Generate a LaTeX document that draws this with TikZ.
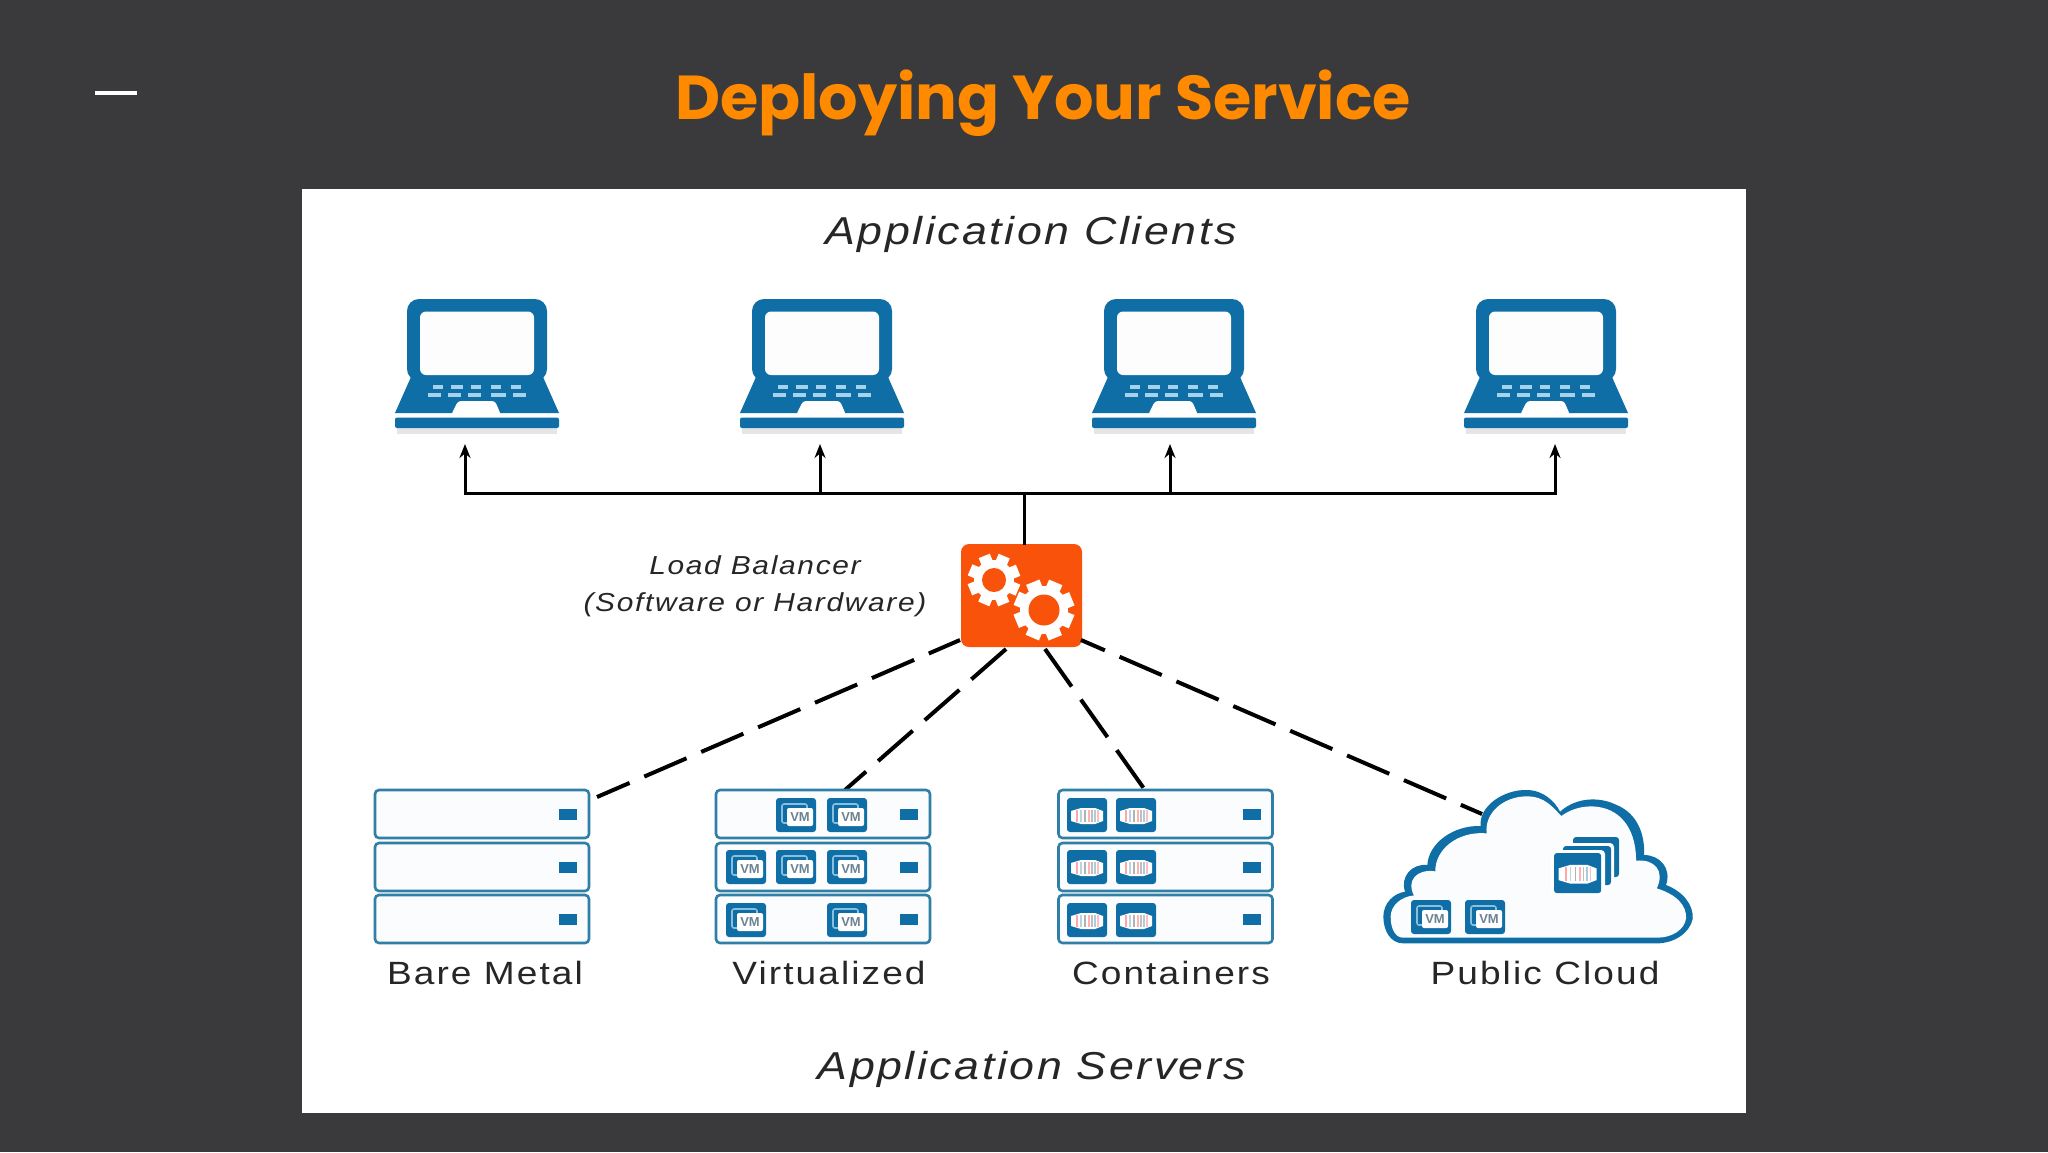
\documentclass[tikz,border=0pt]{standalone}
\usepackage{fontspec}
\setmainfont{Liberation Sans}
\newfontfamily\titlef{Poppins}
\newfontfamily\lab{Liberation Sans}[LetterSpace=6.5,FakeStretch=1.15]
\usetikzlibrary{arrows.meta}
\definecolor{bgd}{HTML}{3A393B}
\definecolor{ttl}{HTML}{FF8A00}
\definecolor{blu}{HTML}{0F6EA5}
\definecolor{lblu}{HTML}{A6D3EC}
\definecolor{edgec}{HTML}{2F7FA6}
\definecolor{lbo}{HTML}{F9520A}
\tikzset{
  x=0.5pt,y=-0.5pt,
  rackrow/.style={draw=edgec,line width=1.3pt,fill=blu!2,rounded corners=2pt,minimum width=107pt,minimum height=24pt,inner sep=0pt},
  caplabel/.style={font=\lab\fontsize{16.1pt}{18pt}\selectfont,text=black!85,inner sep=0pt},
  headlabel/.style={font=\lab\itshape\fontsize{19.45pt}{24pt}\selectfont,text=black!85,inner sep=0pt},
  notelabel/.style={font=\lab\itshape\fontsize{13pt}{16pt}\selectfont,text=black!85,inner sep=0pt},
  wire/.style={line width=1.5pt,draw=black},
  tipwire/.style={wire,-{Stealth[length=7pt,width=5.5pt]}},
  dashline/.style={line width=2pt,draw=black,dash pattern=on 23pt off 8pt},
  tile/.style={fill=blu,rounded corners=1.5pt},
  laptop/.pic={
    \fill[black,opacity=.1] (-80,129) rectangle (80,135);
    \fill[blu,rounded corners=6pt] (-70,0) rectangle (70,82);
    \fill[blu] (-66,78) -- (-82,114) -- (82,114) -- (66,78) -- cycle;
    \fill[blu!1,rounded corners=3pt] (-57,12.5) rectangle (57,76);
    \fill[blu,rounded corners=1pt] (-82,118.5) rectangle (82,129);
    \fill[white,rounded corners=1.5pt] (-26,116) -- (-19,102) -- (18,102) -- (24,116) -- cycle;
    \foreach \a/\b in {-44/-34,-26/-14,-6/4,14/24,34/44}
      \fill[lblu] (\a,86) rectangle (\b,89.5);
    \foreach \a/\b in {-49/-36,-29/-16,-9/4,14/29,36/49}
      \fill[lblu] (\a,94) rectangle (\b,97.5);
  },
  vmtile/.pic={
    \fill[tile] (0,0) rectangle (40,34);
    \draw[lblu!80!blu,line width=.8pt,rounded corners=1pt] (6,6) rectangle (31,25);
    \fill[white,rounded corners=1pt] (11,10) rectangle (37,28);
    \node[font=\bfseries\fontsize{6.5pt}{7pt}\selectfont,text=blu!45!black!60,inner sep=0pt] (t) at (24,19.5) {VM};
  },
  ctile/.pic={
    \fill[tile] (0,0) rectangle (40,34);
    \fill[white] (4,13) -- (14,10) -- (28,10) -- (36,13) -- (36,23) -- (28,26) -- (14,26) -- (4,23) -- cycle;
    \foreach \a/\c in {10/red!35,14/blu!30,18/black!30,22/red!30,25/black!25,28/blu!35,31/red!25}
      \draw[\c,line width=.7pt] (\a,12) -- (\a,24);
  },
}
\newcommand{\gearshape}[5]{% x y body tooth hole
  \fill[white] (#1,#2) circle (#3);
  \foreach \a in {0,45,...,315}
    \fill[white,shift={(#1,#2)},rotate=\a+22] (-0.3*#3,0) rectangle (0.3*#3,#4);
  \fill[lbo] (#1,#2) circle (#5);
}
\begin{document}
\begin{tikzpicture}
\useasboundingbox (0,0) rectangle (2048,1152);
\fill[bgd] (0,0) rectangle (2048,1152);
\fill[white] (301.5,189) rectangle (1746,1113);
\node[font=\titlef\bfseries\fontsize{31pt}{38pt}\selectfont,text=ttl,inner sep=0pt] (title) at (1043,103) {Deploying Your Service};
\coordinate (mA) at (95,93); \coordinate (mB) at (137,93);
\draw[white,line width=2pt] (mA) -- (mB);

\node[headlabel] (clients) at (1031,234) {Application Clients};
\node[headlabel] (servers) at (1032,1069) {Application Servers};
\node[notelabel] (lbl1) at (755,565) {Load Balancer};
\node[notelabel] (lbl2) at (755,605) {(Software or Hardware)};

\pic (l1) at (477,299) {laptop};
\pic (l2) at (822,299) {laptop};
\pic (l3) at (1174,299) {laptop};
\pic (l4) at (1546,299) {laptop};

% load balancer
\node[fill=lbo,rounded corners=4pt,minimum width=60.5pt,minimum height=51.5pt,inner sep=0pt] (lb) at (1021.5,595.5) {};
\gearshape{994}{580}{20}{26}{12}
\gearshape{1044}{610}{24}{30}{15.5}

% connectors
\coordinate (top) at (1024,545);
\coordinate (bus) at (1024,493);
\coordinate (t1) at (465,444);
\coordinate (t2) at (820,444);
\coordinate (t3) at (1170,444);
\coordinate (t4) at (1555,444);
\draw[wire] (top) -- (bus);
\draw[tipwire] (bus) -| (t1);
\draw[tipwire] (bus) -| (t2);
\draw[tipwire] (bus) -| (t3);
\draw[tipwire] (bus) -| (t4);

\coordinate (d1s) at (960,640); \coordinate (d1e) at (597,797);
\coordinate (d2s) at (1006,649); \coordinate (d2e) at (845,790);
\coordinate (d3s) at (1045,649); \coordinate (d3e) at (1145,790);
\coordinate (d4s) at (1081,640); \coordinate (d4e) at (1482,814);
\draw[dashline,dash phase=6pt] (d1s) -- (d1e);
\draw[dashline] (d2s) -- (d2e);
\draw[dashline] (d3s) -- (d3e);
\draw[dashline,dash phase=10pt] (d4s) -- (d4e);

% server racks
\foreach \c/\x in {a/482,b/823,c/1165.5}
  \foreach \r/\y in {1/814,2/867,3/919}{
    \node[rackrow] (\c\r) at (\x,\y) {};
    \fill[blu] (\x+77,\y-5.5) rectangle (\x+95,\y+5.5);
  }
\foreach \n/\x/\y in {p/776/798,q/827/798,r/726/850,s/776/850,u/827/850,v/726/903,w/827/903}
  \pic (\n) at (\x,\y) {vmtile};
\foreach \y in {798,850,903}{
  \pic at (1067,\y) {ctile};
  \pic at (1116,\y) {ctile};
}

% cloud
\begin{scope}[shift={(1370,770)},x=0.1667pt,y=-0.1667pt]
\fill[blu] (100,520) .. controls (60,520) and (40,480) .. (40,440)
  .. controls (40,400) and (70,370) .. (105,365)
  .. controls (90,320) and (125,280) .. (172,285)
  .. controls (175,220) and (250,165) .. (332,168)
  .. controls (325,110) and (400,58) .. (470,60)
  .. controls (520,60) and (555,95) .. (570,125)
  .. controls (620,80) and (690,80) .. (740,105)
  .. controls (800,130) and (825,190) .. (822,255)
  .. controls (870,255) and (905,295) .. (888,345)
  .. controls (940,365) and (970,405) .. (968,445)
  .. controls (960,490) and (910,520) .. (860,520) -- cycle;
\fill[blu!2] (100,503) .. controls (75,503) and (62,475) .. (62,440)
  .. controls (62,407) and (92,380) .. (132,376)
  .. controls (108,335) and (138,295) .. (196,304)
  .. controls (194,240) and (262,182) .. (350,190)
  .. controls (342,130) and (400,79) .. (470,79)
  .. controls (525,79) and (548,112) .. (574,138)
  .. controls (620,104) and (680,102) .. (722,122)
  .. controls (775,148) and (798,205) .. (798,272)
  .. controls (852,266) and (886,302) .. (860,355)
  .. controls (918,373) and (950,405) .. (948,445)
  .. controls (943,480) and (905,503) .. (860,503) -- cycle;
\end{scope}
\pic (cv1) at (1411,900) {vmtile};
\pic (cv2) at (1465,900) {vmtile};
\fill[white,rounded corners=2pt] (1571,835) rectangle (1621,879);
\fill[tile] (1573,837) rectangle (1619,877);
\fill[white,rounded corners=2pt] (1560,843) rectangle (1614,888);
\fill[tile] (1563,846) rectangle (1611,885);
\fill[white,rounded corners=2pt] (1551,850) rectangle (1605,896);
\pic[scale=1.18] at (1554,853) {ctile};

\node[caplabel] (n1) at (485,973) {Bare Metal};
\node[caplabel] (n2) at (829,973) {Virtualized};
\node[caplabel] (n3) at (1171,973) {Containers};
\node[caplabel] (n4) at (1545,973) {Public Cloud};
\end{tikzpicture}
\end{document}
